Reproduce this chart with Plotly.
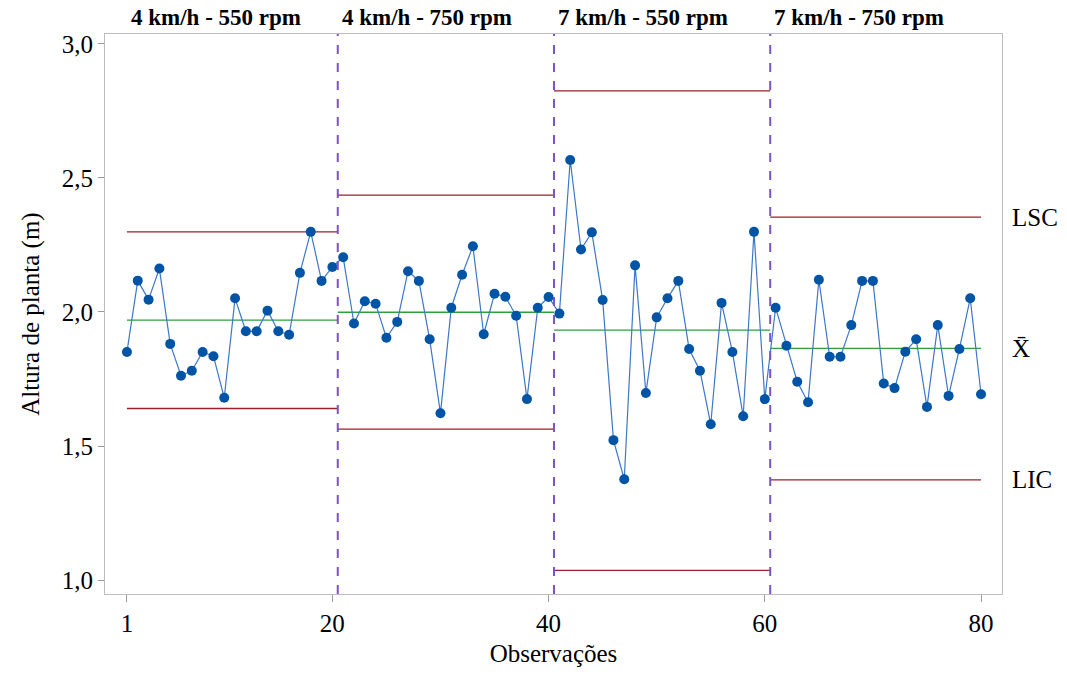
import plotly.graph_objects as go

# ---- data ----
obs = list(range(1, 81))
altura = [
    1.851, 2.117, 2.046, 2.162, 1.881, 1.762, 1.781, 1.851, 1.835, 1.680,
    2.051, 1.928, 1.928, 2.005, 1.928, 1.915, 2.146, 2.299, 2.116, 2.168,
    2.204, 1.957, 2.040, 2.031, 1.904, 1.963, 2.152, 2.116, 1.898, 1.622,
    2.016, 2.139, 2.245, 1.917, 2.068, 2.057, 1.986, 1.675, 2.016, 2.056,
    1.994, 2.567, 2.233, 2.297, 2.045, 1.522, 1.376, 2.174, 1.698, 1.980,
    2.051, 2.116, 1.862, 1.781, 1.581, 2.034, 1.851, 1.611, 2.299, 1.675,
    2.016, 1.874, 1.740, 1.663, 2.120, 1.833, 1.833, 1.951, 2.116, 2.116,
    1.733, 1.716, 1.852, 1.898, 1.646, 1.951, 1.687, 1.862, 2.051, 1.693,
]
grupos = ["4 km/h - 550 rpm", "4 km/h - 750 rpm", "7 km/h - 550 rpm", "7 km/h - 750 rpm"]
seg_inicio = [1, 20.5, 40.5, 60.5]
seg_fim = [20.5, 40.5, 60.5, 80]
divisoes = [20.5, 40.5, 60.5]
lsc = [2.299, 2.436, 2.825, 2.354]
media = [1.970, 1.999, 1.932, 1.864]
lic = [1.640, 1.563, 1.036, 1.374]
x_ticks = [1, 20, 40, 60, 80]
y_ticks = [1.0, 1.5, 2.0, 2.5, 3.0]

FONT = "Liberation Serif"
RED = "#9c1f2a"
GREEN = "#2e9e3e"

fig = go.Figure()

for i in range(4):
    xs = [seg_inicio[i], seg_fim[i]]
    fig.add_trace(go.Scatter(x=xs, y=[lsc[i]] * 2, mode="lines",
                             line=dict(color=RED, width=1.3), hoverinfo="skip"))
    fig.add_trace(go.Scatter(x=xs, y=[lic[i]] * 2, mode="lines",
                             line=dict(color=RED, width=1.3), hoverinfo="skip"))
    fig.add_trace(go.Scatter(x=xs, y=[media[i]] * 2, mode="lines",
                             line=dict(color=GREEN, width=1.3), hoverinfo="skip"))

fig.add_trace(go.Scatter(
    x=obs, y=altura, mode="lines+markers",
    line=dict(color="#3d78c6", width=1.2),
    marker=dict(color="#0054a6", size=10),
))

for d in divisoes:
    fig.add_shape(type="line", x0=d, x1=d, y0=0, y1=1, xref="x", yref="paper",
                  line=dict(color="#7b52c8", width=2, dash="dash"))

for i in range(4):
    fig.add_annotation(x=seg_inicio[i], y=1, xref="x", yref="paper",
                       text="<b>" + grupos[i] + "</b>", showarrow=False,
                       xanchor="left", yanchor="bottom", xshift=2, yshift=2,
                       font=dict(family=FONT, size=23, color="black"))

for txt, val in [("LSC", lsc[3]), ("X\u0304", media[3]), ("LIC", lic[3])]:
    fig.add_annotation(x=1, y=val, xref="paper", yref="y", text=txt,
                       showarrow=False, xanchor="left", yanchor="middle",
                       xshift=8, font=dict(family=FONT, size=25, color="black"))

fig.update_layout(
    width=1067, height=674,
    margin=dict(l=105, r=65, t=34, b=80, autoexpand=False),
    plot_bgcolor="white", paper_bgcolor="white",
    showlegend=False,
    separators=",.",
    font=dict(family=FONT, size=25, color="black"),
)
fig.update_xaxes(range=[-1.03, 81.94], tickvals=x_ticks, ticks="outside",
                 ticklen=7, tickcolor="#999999", showgrid=False, zeroline=False,
                 showline=True, linecolor="#bdbdbd", linewidth=1, mirror=True,
                 automargin=False,
                 title=dict(text="Observações", font=dict(family=FONT, size=25), standoff=8),
                 tickfont=dict(family=FONT, size=25))
fig.update_yaxes(range=[0.948, 3.037], tickvals=y_ticks, tickformat=".1f",
                 ticks="outside", ticklen=6, tickcolor="#999999",
                 showgrid=False, zeroline=False, automargin=False,
                 showline=True, linecolor="#bdbdbd", linewidth=1, mirror=True,
                 title=dict(text="Altura de planta (m)", font=dict(family=FONT, size=25), standoff=15),
                 tickfont=dict(family=FONT, size=25))

fig.write_html("out.html", config={"displayModeBar": False},
               post_script="document.body.style.margin='0';document.body.style.overflow='hidden';")
